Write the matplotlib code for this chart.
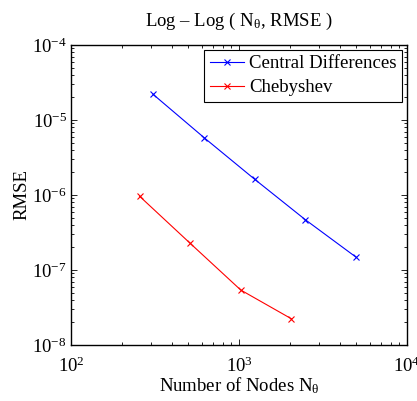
import matplotlib
matplotlib.use("Agg")
import matplotlib.pyplot as plt
from matplotlib.ticker import LogLocator, NullFormatter

plt.rcParams['font.family'] = ['Liberation Serif', 'DejaVu Serif']
plt.rcParams['mathtext.fontset'] = 'custom'
plt.rcParams['mathtext.rm'] = 'Liberation Serif'
plt.rcParams['mathtext.it'] = 'Liberation Serif'

# Convergence data
n_central = [308, 620, 1240, 2480, 4960]
rmse_central = [2.20e-5, 5.81e-6, 1.62e-6, 4.69e-7, 1.49e-7]
n_cheb = [256, 512, 1024, 2048]
rmse_cheb = [9.62e-7, 2.27e-7, 5.41e-8, 2.24e-8]

fig = plt.figure(figsize=(4.17, 4.01), dpi=100)
ax = fig.add_axes([71 / 417, 1 - 345 / 401, 336 / 417, 300 / 401])

ax.loglog(n_central, rmse_central, color='#0000ff', marker='x', ms=4, lw=0.8,
          mew=0.8, label='Central Differences')
ax.loglog(n_cheb, rmse_cheb, color='#ff0000', marker='x', ms=4, lw=0.8,
          mew=0.8, label='Chebyshev')

ax.set_xlim(1e2, 1e4)
ax.set_ylim(1e-8, 1e-4)
ax.xaxis.set_major_locator(LogLocator(base=10, numticks=10))
ax.yaxis.set_major_locator(LogLocator(base=10, numticks=10))
ax.xaxis.set_minor_locator(LogLocator(base=10, subs=range(2, 10), numticks=10))
ax.yaxis.set_minor_locator(LogLocator(base=10, subs=range(2, 10), numticks=10))
ax.xaxis.set_minor_formatter(NullFormatter())
ax.yaxis.set_minor_formatter(NullFormatter())

ax.tick_params(which='both', direction='in', top=True, right=True,
               labelsize=13.5, width=0.6)
ax.tick_params(axis='x', which='major', pad=8)
ax.tick_params(axis='y', which='major', pad=3)
ax.tick_params(which='major', length=4)
ax.tick_params(which='minor', length=2)
for s in ax.spines.values():
    s.set_linewidth(1.0)

ax.set_title('Log – Log ( N$_\\theta$, RMSE )', fontsize=13.5, pad=14)
ax.set_xlabel(r'Number of Nodes N$_\theta$', fontsize=13.5, labelpad=0)
ax.set_ylabel('RMSE', fontsize=13.5, labelpad=1)

leg = ax.legend(loc='upper right', fontsize=13.5, fancybox=False,
                framealpha=1, edgecolor='black', borderpad=0.3,
                handlelength=1.8, handletextpad=0.3, labelspacing=0.35,
                borderaxespad=0.25)
leg.get_frame().set_linewidth(0.8)

fig.savefig('out.png', dpi=100)
